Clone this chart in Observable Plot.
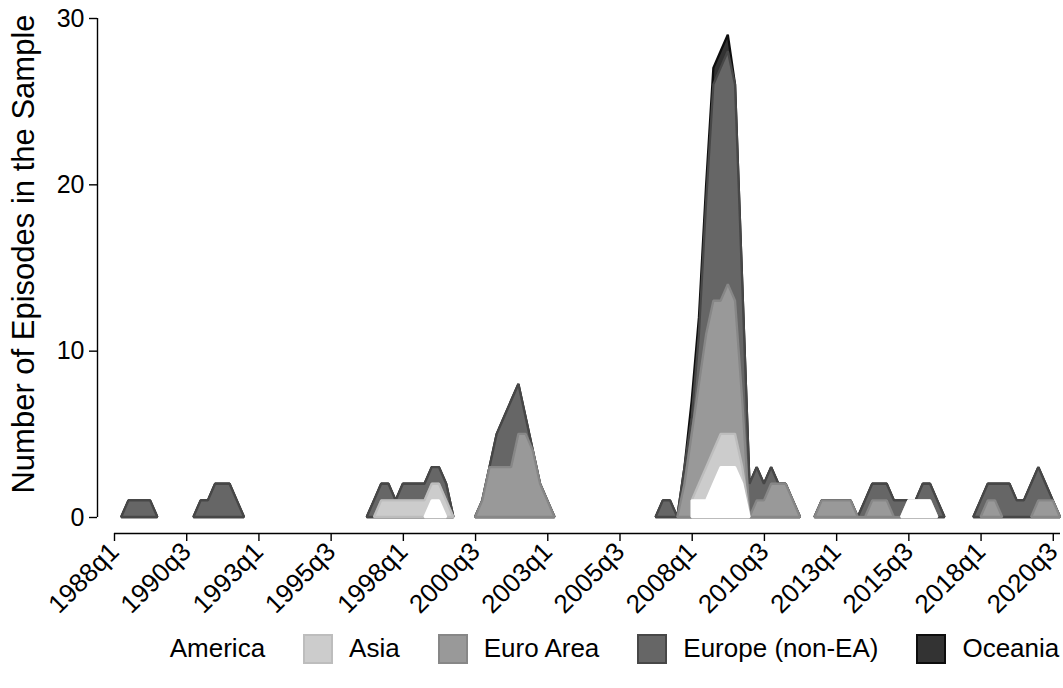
<!DOCTYPE html>
<html>
<head>
<meta charset="utf-8">
<script src="https://cdn.jsdelivr.net/npm/d3@7"></script>
<script src="https://cdn.jsdelivr.net/npm/@observablehq/plot@0.6"></script>
<style>
  html, body { margin: 0; padding: 0; background: #fff; }
  body { font-family: "Liberation Sans", Arial, Helvetica, sans-serif; width: 1063px; height: 688px; overflow: hidden; }
  #chart svg { display: block; }
  #legend { display: flex; flex-wrap: nowrap; align-items: center; justify-content: center; margin-left: 120px; width: 943px; margin-top: 8px; font-size: 26px; color: #000; white-space: nowrap; }
  .item { display: flex; flex-shrink: 0; align-items: center; margin: 0 19px; }
  .sw { flex-shrink: 0; width: 26px; height: 26px; border: 2px solid; margin-right: 16px; }
</style>
</head>
<body>
<div id="chart"></div>
<div id="legend"></div>
<script>
// ---- data: quarters with observations (gaps = no observation) ----
const quarters = [
  "1988q2","1988q3","1988q4","1989q1","1989q2","1989q3",
  "1990q4","1991q1","1991q2","1991q3","1991q4","1992q1","1992q2","1992q3",
  "1996q4","1997q1","1997q2","1997q3","1997q4","1998q1","1998q2","1998q3","1998q4","1999q1","1999q2","1999q3","1999q4",
  "2000q3","2000q4","2001q1","2001q2","2001q3","2001q4","2002q1","2002q2","2002q3","2002q4","2003q1","2003q2",
  "2006q4","2007q1","2007q2","2007q3","2007q4","2008q1","2008q2","2008q3","2008q4","2009q1","2009q2","2009q3","2009q4","2010q1","2010q2","2010q3","2010q4","2011q1","2011q2","2011q3","2011q4",
  "2012q2","2012q3","2012q4","2013q1","2013q2","2013q3","2013q4","2014q1","2014q2","2014q3","2014q4","2015q1","2015q2","2015q3","2015q4","2016q1","2016q2","2016q3","2016q4",
  "2017q4","2018q1","2018q2","2018q3","2018q4","2019q1","2019q2","2019q3","2019q4","2020q1","2020q2","2020q3","2020q4"
];
const america = [
  0,0,0,0,0,0,
  0,0,0,0,0,0,0,0,
  0,0,0,0,0,0,0,0,0,1,1,0,0,
  0,0,0,0,0,0,0,0,0,0,0,0,
  null,null,null,null,null,1,1,1,2,3,3,3,2,0,0,0,0,0,0,0,0,
  0,0,0,0,0,0,0,0,0,0,0,0,0,1,1,1,1,0,0,
  0,0,0,0,0,0,0,0,0,0,0,0,0
];
const asia = [
  0,0,0,0,0,0,
  0,0,0,0,0,0,0,0,
  0,0,1,1,1,1,1,1,1,1,1,1,0,
  0,0,0,0,0,0,0,0,0,0,0,0,
  null,null,null,null,null,0,1,2,2,2,2,2,1,0,0,0,0,0,0,0,0,
  0,0,0,0,0,0,0,0,0,0,0,0,0,0,0,0,0,0,0,
  0,0,0,0,0,0,0,0,0,0,0,0,0
];
const euroArea = [
  0,0,0,0,0,0,
  0,0,0,0,0,0,0,0,
  0,0,0,0,0,0,0,0,0,0,0,0,0,
  0,1,3,3,3,3,5,5,4,2,1,0,
  0,0,0,0,2,4,6,8,9,8,9,8,4,0,1,1,2,2,2,1,0,
  0,1,1,1,1,1,0,0,1,1,1,0,0,0,0,0,0,0,0,
  0,0,1,1,0,0,0,0,0,1,1,1,0
];
const europeNonEA = [
  0,1,1,1,1,0,
  0,1,1,2,2,2,1,0,
  0,1,1,1,0,1,1,1,1,1,1,1,0,
  0,0,0,2,3,4,3,1,0,0,0,0,
  0,1,1,0,1,1,3,8,13,14,14,13,7,2,2,1,1,0,0,0,0,
  0,0,0,0,0,0,0,1,1,1,1,1,1,0,0,1,1,1,0,
  0,1,1,1,2,2,1,1,2,2,1,0,0
];
const oceania = [
  0,0,0,0,0,0,
  0,0,0,0,0,0,0,0,
  0,0,0,0,0,0,0,0,0,0,0,0,0,
  0,0,0,0,0,0,0,0,0,0,0,0,
  0,0,0,0,0,1,1,1,1,1,1,0,0,0,0,0,0,0,0,0,0,
  0,0,0,0,0,0,0,0,0,0,0,0,0,0,0,0,0,0,0,
  0,0,0,0,0,0,0,0,0,0,0,0,0
];
const regionNames = ["America", "Asia", "Euro Area", "Europe (non-EA)", "Oceania"];
const xTickLabels = ["1988q1","1990q3","1993q1","1995q3","1998q1","2000q3","2003q1","2005q3","2008q1","2010q3","2013q1","2015q3","2018q1","2020q3"];
const yTicks = [0, 10, 20, 30];
const yLabel = "Number of Episodes in the Sample";

// ---- styles ----
const fills   = ["#ffffff", "#cccccc", "#999999", "#666666", "#333333"];
const strokes = ["#ffffff", "#bdbdbd", "#878787", "#474747", "#0d0d0d"];

// ---- derived ----
const qIndex = s => { const [y, q] = s.split("q").map(Number); return (y - 1988) * 4 + (q - 1); };
const rowQ = quarters.map(qIndex);
const xTicks = xTickLabels.map(qIndex);
const qMin = d3.min([...xTicks, ...rowQ]);
const qMax = d3.max([...xTicks, ...rowQ]);
const series = [america, asia, euroArea, europeNonEA, oceania];
const rowAt = new Map(rowQ.map((q, i) => [q, i]));
const grid = d3.range(qMin, qMax + 1);
// cumulative level of layer k at quarter q (NaN if no observation)
const cumAt = (k, q) => {
  const i = rowAt.get(q);
  if (i === undefined || series[k][i] == null) return NaN;
  let v = 0;
  for (let j = 0; j <= k; j++) v += series[j][i] ?? 0;
  return v;
};
// a layer is drawn only where it (or a neighbouring quarter) is above zero
const layers = series.map((s, k) => grid.map(q => {
  const v = cumAt(k, q);
  const keep = v > 0 || cumAt(k, q - 1) > 0 || cumAt(k, q + 1) > 0;
  return {q, v: keep ? v : NaN};
}));

const W = 1063, H = 625;
const mL = 97, mT = 18, mB = H - 533, mR = 3;
const insL = 17, insB = 16;

const marks = [];
for (let k = series.length - 1; k >= 0; k--) {
  marks.push(Plot.areaY(layers[k], {x: "q", y1: 0, y2: "v", fill: fills[k], stroke: strokes[k], strokeWidth: 2.3, strokeLinejoin: "miter"}));
}
marks.push(
  Plot.ruleY([yTicks[0]], {x1: qMin, x2: qMax, dy: insB, stroke: "#000", strokeWidth: 1.4}),
  Plot.ruleX([qMin], {y1: yTicks[0], y2: yTicks[yTicks.length - 1], dx: -insL, stroke: "#000", strokeWidth: 1.4}),
  Plot.axisX({ticks: xTicks, tickFormat: d => xTickLabels[xTicks.indexOf(d)], tickRotate: -45, tickSize: 8, tickPadding: 6, fontSize: 26, label: null, strokeWidth: 1.4}),
  Plot.axisY({ticks: yTicks, tickSize: 8, tickPadding: 5, fontSize: 25, label: null, strokeWidth: 1.4}),
  Plot.text([yLabel], {frameAnchor: "left", rotate: -90, dx: -73, dy: -22, fontSize: 31, textAnchor: "middle", fill: "#000"})
);

const chart = Plot.plot({
  width: W, height: H,
  marginLeft: mL, marginTop: mT, marginBottom: mB, marginRight: mR,
  insetLeft: insL, insetBottom: insB,
  x: {domain: [qMin, qMax]},
  y: {domain: [yTicks[0], yTicks[yTicks.length - 1]]},
  style: {fontFamily: '"Liberation Sans", Arial, Helvetica, sans-serif', background: "#fff", color: "#000", overflow: "visible"},
  marks
});
document.getElementById("chart").appendChild(chart);

const legend = document.getElementById("legend");
regionNames.forEach((name, k) => {
  const it = document.createElement("div");
  it.className = "item";
  const sw = document.createElement("span");
  sw.className = "sw";
  sw.style.background = fills[k];
  sw.style.borderColor = k === 0 ? "#ffffff" : strokes[k];
  const lab = document.createElement("span");
  lab.textContent = name;
  it.appendChild(sw); it.appendChild(lab);
  legend.appendChild(it);
});
</script>
</body>
</html>
